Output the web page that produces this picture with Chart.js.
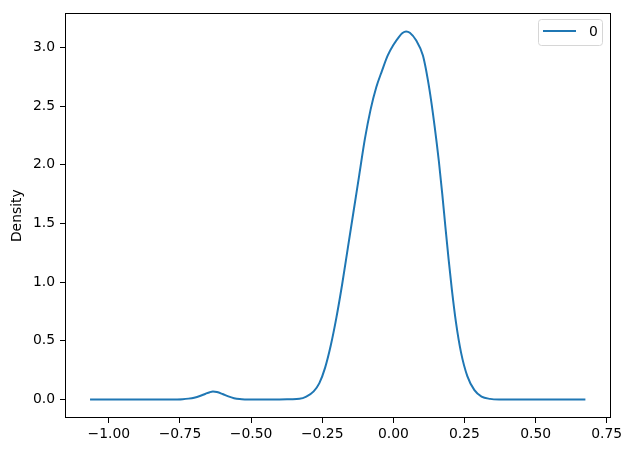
<!DOCTYPE html>
<html>
<head>
<meta charset="utf-8">
<script src="https://cdn.jsdelivr.net/npm/chart.js@4"></script>
<style>
  html, body { margin: 0; padding: 0; background: #fff; }
  #wrap { width: 641px; height: 460px; }
</style>
</head>
<body>
<div id="wrap"><canvas id="kde"></canvas></div>
<script>
// kde curve
const xs = [-1.066, -0.90, -0.80, -0.76, -0.74, -0.72, -0.70, -0.68, -0.66, -0.645, -0.634, -0.62, -0.60, -0.58, -0.56, -0.54, -0.52, -0.50,
  -0.45, -0.40, -0.36, -0.33, -0.306, -0.28, -0.26, -0.24, -0.22, -0.20, -0.18, -0.16, -0.14, -0.12, -0.10, -0.08,
  -0.06, -0.04, -0.02, 0.00, 0.02, 0.032, 0.045, 0.058, 0.080, 0.104, 0.127, 0.145, 0.160, 0.172, 0.183, 0.194,
  0.206, 0.220, 0.238, 0.260, 0.285, 0.310, 0.340, 0.373, 0.45, 0.55, 0.675];
const density = [0.000, 0.000, 0.000, 0.001, 0.003, 0.008, 0.016, 0.030, 0.050, 0.063, 0.068, 0.064, 0.047, 0.027, 0.012, 0.004, 0.001, 0.000,
  0.000, 0.001, 0.003, 0.006, 0.025, 0.070, 0.140, 0.270, 0.460, 0.700, 0.980, 1.290, 1.600, 1.910, 2.220, 2.470,
  2.660, 2.800, 2.930, 3.020, 3.090, 3.122, 3.136, 3.125, 3.060, 2.930, 2.640, 2.330, 2.030, 1.750, 1.470, 1.200,
  0.930, 0.660, 0.400, 0.200, 0.080, 0.025, 0.006, 0.001, 0.000, 0.000, 0.000];
const xTicks = [-1.00, -0.75, -0.50, -0.25, 0.00, 0.25, 0.50, 0.75];
const yTicks = [0.0, 0.5, 1.0, 1.5, 2.0, 2.5, 3.0];
const seriesName = '0';

const fnt = { family: 'DejaVu Sans', size: 13.9 };
const minus = s => s.replace('-', '\u2212');

// frame + legend box like matplotlib
const framePlugin = {
  id: 'frame',
  afterDraw(chart) {
    const ctx = chart.ctx, a = chart.chartArea;
    ctx.save();
    ctx.strokeStyle = '#000';
    ctx.lineWidth = 1;
    ctx.strokeRect(Math.round(a.left) + 0.5, Math.round(a.top) + 0.5,
      Math.round(a.right - a.left) - 1, Math.round(a.bottom - a.top) - 1);

    // legend
    const bx = 538.5, by = 19.5, bw = 64, bh = 26, r = 3;
    ctx.beginPath();
    ctx.moveTo(bx + r, by);
    ctx.arcTo(bx + bw, by, bx + bw, by + bh, r);
    ctx.arcTo(bx + bw, by + bh, bx, by + bh, r);
    ctx.arcTo(bx, by + bh, bx, by, r);
    ctx.arcTo(bx, by, bx + bw, by, r);
    ctx.closePath();
    ctx.fillStyle = 'rgba(255,255,255,0.8)';
    ctx.fill();
    ctx.strokeStyle = '#d6d6d6';
    ctx.stroke();
    const ds = chart.data.datasets[0];
    ctx.beginPath();
    ctx.moveTo(543, 31);
    ctx.lineTo(576, 31);
    ctx.strokeStyle = ds.borderColor;
    ctx.lineWidth = 2;
    ctx.stroke();
    ctx.fillStyle = '#000';
    ctx.font = '13.9px "DejaVu Sans"';
    ctx.textBaseline = 'middle';
    ctx.textAlign = 'left';
    ctx.fillText(ds.label, 589, 32);
    ctx.restore();
  }
};

new Chart(document.getElementById('kde'), {
  type: 'line',
  data: {
    datasets: [{
      label: seriesName,
      data: xs.map((x, i) => ({ x: x, y: density[i] })),
      borderColor: '#1f77b4',
      borderWidth: 2,
      pointRadius: 0,
      cubicInterpolationMode: 'monotone',
      fill: false
    }]
  },
  options: {
    responsive: true,
    maintainAspectRatio: false,
    animation: false,
    layout: { padding: { left: 0, top: 12, right: 30, bottom: 0 } },
    plugins: { legend: { display: false }, tooltip: { enabled: false } },
    scales: {
      x: {
        type: 'linear',
        min: -1.154,
        max: 0.765,
        afterFit(s) { s.height = 42; },
        afterBuildTicks(s) { s.ticks = xTicks.map(v => ({ value: v })); },
        grid: { drawOnChartArea: false, drawTicks: true, tickLength: 5, color: '#000' },
        border: { display: false },
        ticks: {
          color: '#000', font: fnt, padding: 3, maxRotation: 0, autoSkip: false,
          callback: v => minus(v.toFixed(2))
        }
      },
      y: {
        min: -0.157,
        max: 3.29,
        afterFit(s) { s.width = 65; },
        afterBuildTicks(s) { s.ticks = yTicks.map(v => ({ value: v })); },
        grid: { drawOnChartArea: false, drawTicks: true, tickLength: 5, color: '#000' },
        border: { display: false },
        title: { display: true, text: 'Density', color: '#000', font: fnt, padding: { top: 9, bottom: 0 } },
        ticks: {
          color: '#000', font: fnt, padding: 5, autoSkip: false,
          callback: v => minus(v.toFixed(1))
        }
      }
    }
  },
  plugins: [framePlugin]
});
</script>
</body>
</html>
